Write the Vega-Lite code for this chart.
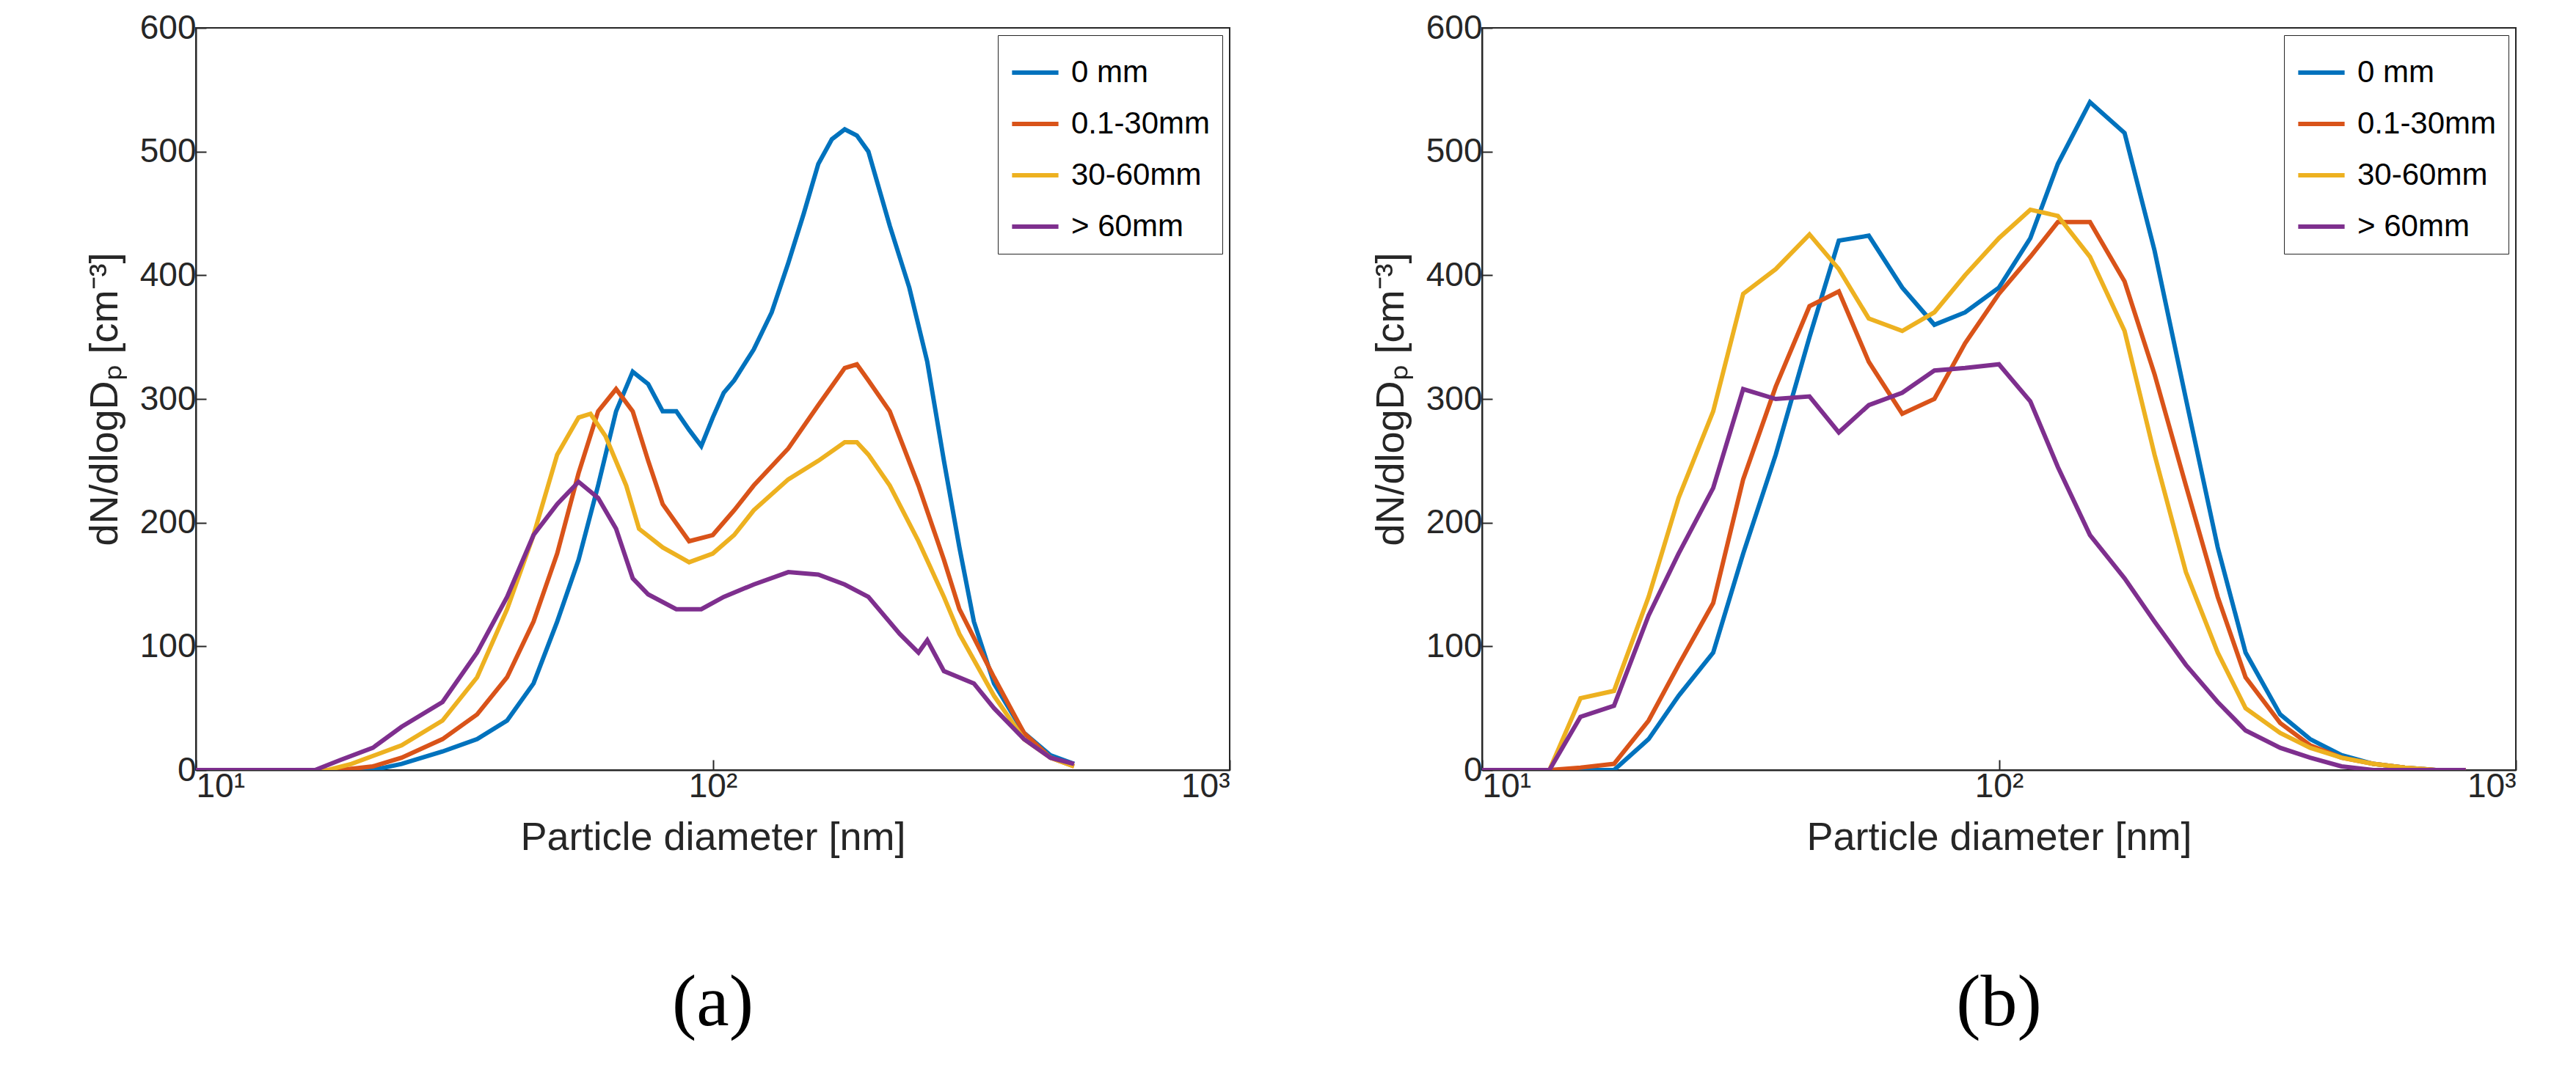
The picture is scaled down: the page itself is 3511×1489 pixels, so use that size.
{"$schema":"https://vega.github.io/schema/vega-lite/v6.json","background":"white","padding":{"left":115,"top":14,"right":40,"bottom":10},
"config":{"font":"Liberation Sans","view":{"stroke":"#262626","strokeWidth":2},"axis":{"labelFontSize":46,"titleFontSize":54,"titleFontWeight":"normal","labelColor":"#262626","titleColor":"#262626","domainColor":"#262626","tickColor":"#262626","grid":false,"tickSize":-14,"domainWidth":2,"tickWidth":2},"legend":{"labelFontSize":42,"symbolStrokeWidth":6,"symbolSize":4000,"symbolType":"stroke","strokeColor":"#262626","fillColor":"white","padding":16,"rowPadding":14,"labelLimit":400,"labelOffset":14},"title":{"font":"Liberation Serif","fontSize":100,"fontWeight":"normal","orient":"bottom","offset":150},"concat":{"spacing":190}},
"datasets":{"a":[
{"s":"0 mm","d":10,"v":0},{"s":"0 mm","d":22,"v":0},{"s":"0 mm","d":25,"v":5},{"s":"0 mm","d":30,"v":15},{"s":"0 mm","d":35,"v":25},{"s":"0 mm","d":40,"v":40},{"s":"0 mm","d":45,"v":70},{"s":"0 mm","d":50,"v":120},{"s":"0 mm","d":55,"v":170},{"s":"0 mm","d":60,"v":230},{"s":"0 mm","d":65,"v":290},{"s":"0 mm","d":70,"v":322},{"s":"0 mm","d":75,"v":312},{"s":"0 mm","d":80,"v":290},{"s":"0 mm","d":85,"v":290},{"s":"0 mm","d":90,"v":275},{"s":"0 mm","d":95,"v":262},{"s":"0 mm","d":100,"v":285},{"s":"0 mm","d":105,"v":305},{"s":"0 mm","d":110,"v":315},{"s":"0 mm","d":120,"v":340},{"s":"0 mm","d":130,"v":370},{"s":"0 mm","d":140,"v":410},{"s":"0 mm","d":150,"v":450},{"s":"0 mm","d":160,"v":490},{"s":"0 mm","d":170,"v":510},{"s":"0 mm","d":180,"v":518},{"s":"0 mm","d":190,"v":513},{"s":"0 mm","d":200,"v":500},{"s":"0 mm","d":220,"v":440},{"s":"0 mm","d":240,"v":390},{"s":"0 mm","d":260,"v":330},{"s":"0 mm","d":280,"v":250},{"s":"0 mm","d":300,"v":180},{"s":"0 mm","d":320,"v":120},{"s":"0 mm","d":350,"v":70},{"s":"0 mm","d":400,"v":30},{"s":"0 mm","d":450,"v":12},{"s":"0 mm","d":500,"v":5},
{"s":"0.1-30mm","d":10,"v":0},{"s":"0.1-30mm","d":19,"v":0},{"s":"0.1-30mm","d":22,"v":3},{"s":"0.1-30mm","d":25,"v":10},{"s":"0.1-30mm","d":30,"v":25},{"s":"0.1-30mm","d":35,"v":45},{"s":"0.1-30mm","d":40,"v":75},{"s":"0.1-30mm","d":45,"v":120},{"s":"0.1-30mm","d":50,"v":175},{"s":"0.1-30mm","d":55,"v":240},{"s":"0.1-30mm","d":60,"v":290},{"s":"0.1-30mm","d":65,"v":308},{"s":"0.1-30mm","d":70,"v":290},{"s":"0.1-30mm","d":75,"v":250},{"s":"0.1-30mm","d":80,"v":215},{"s":"0.1-30mm","d":90,"v":185},{"s":"0.1-30mm","d":100,"v":190},{"s":"0.1-30mm","d":110,"v":210},{"s":"0.1-30mm","d":120,"v":230},{"s":"0.1-30mm","d":140,"v":260},{"s":"0.1-30mm","d":160,"v":295},{"s":"0.1-30mm","d":180,"v":325},{"s":"0.1-30mm","d":190,"v":328},{"s":"0.1-30mm","d":200,"v":315},{"s":"0.1-30mm","d":220,"v":290},{"s":"0.1-30mm","d":250,"v":230},{"s":"0.1-30mm","d":280,"v":170},{"s":"0.1-30mm","d":300,"v":130},{"s":"0.1-30mm","d":350,"v":75},{"s":"0.1-30mm","d":400,"v":30},{"s":"0.1-30mm","d":450,"v":10},{"s":"0.1-30mm","d":500,"v":3},
{"s":"30-60mm","d":10,"v":0},{"s":"30-60mm","d":18,"v":0},{"s":"30-60mm","d":20,"v":5},{"s":"30-60mm","d":25,"v":20},{"s":"30-60mm","d":30,"v":40},{"s":"30-60mm","d":35,"v":75},{"s":"30-60mm","d":40,"v":130},{"s":"30-60mm","d":45,"v":190},{"s":"30-60mm","d":50,"v":255},{"s":"30-60mm","d":55,"v":285},{"s":"30-60mm","d":58,"v":288},{"s":"30-60mm","d":62,"v":270},{"s":"30-60mm","d":68,"v":230},{"s":"30-60mm","d":72,"v":195},{"s":"30-60mm","d":80,"v":180},{"s":"30-60mm","d":90,"v":168},{"s":"30-60mm","d":100,"v":175},{"s":"30-60mm","d":110,"v":190},{"s":"30-60mm","d":120,"v":210},{"s":"30-60mm","d":140,"v":235},{"s":"30-60mm","d":160,"v":250},{"s":"30-60mm","d":180,"v":265},{"s":"30-60mm","d":190,"v":265},{"s":"30-60mm","d":200,"v":255},{"s":"30-60mm","d":220,"v":230},{"s":"30-60mm","d":250,"v":185},{"s":"30-60mm","d":280,"v":140},{"s":"30-60mm","d":300,"v":110},{"s":"30-60mm","d":350,"v":60},{"s":"30-60mm","d":400,"v":25},{"s":"30-60mm","d":450,"v":10},{"s":"30-60mm","d":500,"v":3},
{"s":"> 60mm","d":10,"v":0},{"s":"> 60mm","d":17,"v":0},{"s":"> 60mm","d":19,"v":8},{"s":"> 60mm","d":22,"v":18},{"s":"> 60mm","d":25,"v":35},{"s":"> 60mm","d":30,"v":55},{"s":"> 60mm","d":35,"v":95},{"s":"> 60mm","d":40,"v":140},{"s":"> 60mm","d":45,"v":190},{"s":"> 60mm","d":50,"v":215},{"s":"> 60mm","d":55,"v":233},{"s":"> 60mm","d":60,"v":220},{"s":"> 60mm","d":65,"v":195},{"s":"> 60mm","d":70,"v":155},{"s":"> 60mm","d":75,"v":142},{"s":"> 60mm","d":85,"v":130},{"s":"> 60mm","d":95,"v":130},{"s":"> 60mm","d":105,"v":140},{"s":"> 60mm","d":120,"v":150},{"s":"> 60mm","d":140,"v":160},{"s":"> 60mm","d":160,"v":158},{"s":"> 60mm","d":180,"v":150},{"s":"> 60mm","d":200,"v":140},{"s":"> 60mm","d":230,"v":110},{"s":"> 60mm","d":250,"v":95},{"s":"> 60mm","d":260,"v":105},{"s":"> 60mm","d":280,"v":80},{"s":"> 60mm","d":320,"v":70},{"s":"> 60mm","d":350,"v":50},{"s":"> 60mm","d":400,"v":25},{"s":"> 60mm","d":450,"v":10},{"s":"> 60mm","d":500,"v":5}],
"b":[
{"s":"0 mm","d":10,"v":0},{"s":"0 mm","d":13.5,"v":0},{"s":"0 mm","d":15.5,"v":0},{"s":"0 mm","d":18,"v":0},{"s":"0 mm","d":21,"v":25},{"s":"0 mm","d":24,"v":60},{"s":"0 mm","d":28,"v":95},{"s":"0 mm","d":32,"v":175},{"s":"0 mm","d":37,"v":255},{"s":"0 mm","d":43,"v":350},{"s":"0 mm","d":49,"v":428},{"s":"0 mm","d":56,"v":432},{"s":"0 mm","d":65,"v":390},{"s":"0 mm","d":75,"v":360},{"s":"0 mm","d":86,"v":370},{"s":"0 mm","d":100,"v":390},{"s":"0 mm","d":115,"v":430},{"s":"0 mm","d":130,"v":490},{"s":"0 mm","d":150,"v":540},{"s":"0 mm","d":175,"v":515},{"s":"0 mm","d":200,"v":420},{"s":"0 mm","d":230,"v":300},{"s":"0 mm","d":265,"v":180},{"s":"0 mm","d":300,"v":95},{"s":"0 mm","d":350,"v":45},{"s":"0 mm","d":400,"v":25},{"s":"0 mm","d":460,"v":12},{"s":"0 mm","d":530,"v":5},{"s":"0 mm","d":610,"v":2},{"s":"0 mm","d":700,"v":0},{"s":"0 mm","d":800,"v":0},
{"s":"0.1-30mm","d":10,"v":0},{"s":"0.1-30mm","d":13.5,"v":0},{"s":"0.1-30mm","d":15.5,"v":2},{"s":"0.1-30mm","d":18,"v":5},{"s":"0.1-30mm","d":21,"v":40},{"s":"0.1-30mm","d":24,"v":85},{"s":"0.1-30mm","d":28,"v":135},{"s":"0.1-30mm","d":32,"v":235},{"s":"0.1-30mm","d":37,"v":310},{"s":"0.1-30mm","d":43,"v":375},{"s":"0.1-30mm","d":49,"v":387},{"s":"0.1-30mm","d":56,"v":330},{"s":"0.1-30mm","d":65,"v":288},{"s":"0.1-30mm","d":75,"v":300},{"s":"0.1-30mm","d":86,"v":345},{"s":"0.1-30mm","d":100,"v":385},{"s":"0.1-30mm","d":115,"v":415},{"s":"0.1-30mm","d":130,"v":443},{"s":"0.1-30mm","d":150,"v":443},{"s":"0.1-30mm","d":175,"v":395},{"s":"0.1-30mm","d":200,"v":320},{"s":"0.1-30mm","d":230,"v":230},{"s":"0.1-30mm","d":265,"v":140},{"s":"0.1-30mm","d":300,"v":75},{"s":"0.1-30mm","d":350,"v":38},{"s":"0.1-30mm","d":400,"v":20},{"s":"0.1-30mm","d":460,"v":10},{"s":"0.1-30mm","d":530,"v":5},{"s":"0.1-30mm","d":610,"v":2},{"s":"0.1-30mm","d":700,"v":0},{"s":"0.1-30mm","d":800,"v":0},
{"s":"30-60mm","d":10,"v":0},{"s":"30-60mm","d":13.5,"v":0},{"s":"30-60mm","d":15.5,"v":58},{"s":"30-60mm","d":18,"v":64},{"s":"30-60mm","d":21,"v":140},{"s":"30-60mm","d":24,"v":220},{"s":"30-60mm","d":28,"v":290},{"s":"30-60mm","d":32,"v":385},{"s":"30-60mm","d":37,"v":405},{"s":"30-60mm","d":43,"v":433},{"s":"30-60mm","d":49,"v":405},{"s":"30-60mm","d":56,"v":365},{"s":"30-60mm","d":65,"v":355},{"s":"30-60mm","d":75,"v":370},{"s":"30-60mm","d":86,"v":400},{"s":"30-60mm","d":100,"v":430},{"s":"30-60mm","d":115,"v":453},{"s":"30-60mm","d":130,"v":448},{"s":"30-60mm","d":150,"v":415},{"s":"30-60mm","d":175,"v":355},{"s":"30-60mm","d":200,"v":255},{"s":"30-60mm","d":230,"v":160},{"s":"30-60mm","d":265,"v":95},{"s":"30-60mm","d":300,"v":50},{"s":"30-60mm","d":350,"v":30},{"s":"30-60mm","d":400,"v":18},{"s":"30-60mm","d":460,"v":10},{"s":"30-60mm","d":530,"v":5},{"s":"30-60mm","d":610,"v":2},{"s":"30-60mm","d":700,"v":0},{"s":"30-60mm","d":800,"v":0},
{"s":"> 60mm","d":10,"v":0},{"s":"> 60mm","d":13.5,"v":0},{"s":"> 60mm","d":15.5,"v":43},{"s":"> 60mm","d":18,"v":52},{"s":"> 60mm","d":21,"v":125},{"s":"> 60mm","d":24,"v":175},{"s":"> 60mm","d":28,"v":228},{"s":"> 60mm","d":32,"v":308},{"s":"> 60mm","d":37,"v":300},{"s":"> 60mm","d":43,"v":302},{"s":"> 60mm","d":49,"v":273},{"s":"> 60mm","d":56,"v":295},{"s":"> 60mm","d":65,"v":305},{"s":"> 60mm","d":75,"v":323},{"s":"> 60mm","d":86,"v":325},{"s":"> 60mm","d":100,"v":328},{"s":"> 60mm","d":115,"v":298},{"s":"> 60mm","d":130,"v":245},{"s":"> 60mm","d":150,"v":190},{"s":"> 60mm","d":175,"v":155},{"s":"> 60mm","d":200,"v":120},{"s":"> 60mm","d":230,"v":85},{"s":"> 60mm","d":265,"v":55},{"s":"> 60mm","d":300,"v":32},{"s":"> 60mm","d":350,"v":18},{"s":"> 60mm","d":400,"v":10},{"s":"> 60mm","d":460,"v":3},{"s":"> 60mm","d":530,"v":0},{"s":"> 60mm","d":610,"v":0},{"s":"> 60mm","d":700,"v":0},{"s":"> 60mm","d":800,"v":0}]},
"hconcat":[
{"title":"(a)","width":1409,"height":1012,"data":{"name":"a"},"mark":{"type":"line","strokeWidth":6,"clip":true},
"encoding":{"x":{"field":"d","type":"quantitative","scale":{"type":"log","domain":[10,1000]},"axis":{"values":[10,100,1000],"labelExpr":"datum.value==10?'10¹':datum.value==100?'10²':'10³'","title":"Particle diameter [nm]","titlePadding":20,"labelPadding":14}},
"y":{"field":"v","type":"quantitative","scale":{"domain":[0,600]},"axis":{"values":[0,100,200,300,400,500,600],"title":"dN/dlogDₚ [cm⁻³]","titlePadding":20,"labelPadding":14}},
"color":{"field":"s","type":"nominal","sort":["0 mm","0.1-30mm","30-60mm","> 60mm"],"scale":{"domain":["0 mm","0.1-30mm","30-60mm","> 60mm"],"range":["#0072BD","#D95319","#EDB120","#7E2F8E"]},"legend":{"title":null,"orient":"top-right","offset":10}}}},
{"title":"(b)","width":1409,"height":1012,"data":{"name":"b"},"mark":{"type":"line","strokeWidth":6,"clip":true},
"encoding":{"x":{"field":"d","type":"quantitative","scale":{"type":"log","domain":[10,1000]},"axis":{"values":[10,100,1000],"labelExpr":"datum.value==10?'10¹':datum.value==100?'10²':'10³'","title":"Particle diameter [nm]","titlePadding":20,"labelPadding":14}},
"y":{"field":"v","type":"quantitative","scale":{"domain":[0,600]},"axis":{"values":[0,100,200,300,400,500,600],"title":"dN/dlogDₚ [cm⁻³]","titlePadding":20,"labelPadding":14}},
"color":{"field":"s","type":"nominal","sort":["0 mm","0.1-30mm","30-60mm","> 60mm"],"scale":{"domain":["0 mm","0.1-30mm","30-60mm","> 60mm"],"range":["#0072BD","#D95319","#EDB120","#7E2F8E"]},"legend":{"title":null,"orient":"top-right","offset":10}}}}
],"resolve":{"scale":{"color":"shared"},"legend":{"color":"independent"}}}
